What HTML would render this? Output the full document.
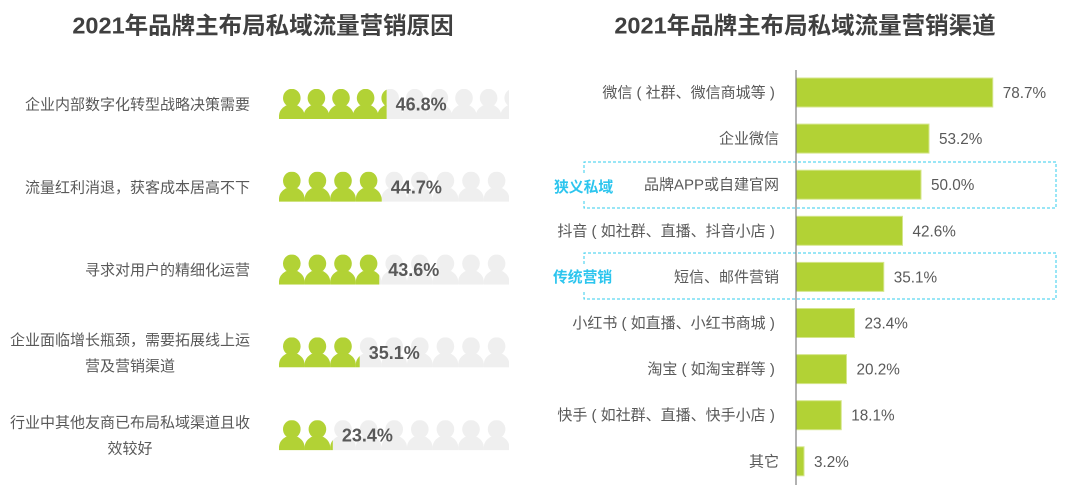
<!DOCTYPE html>
<html lang="zh">
<head>
<meta charset="utf-8">
<title>2021年品牌主布局私域流量营销</title>
<style>
html,body{margin:0;padding:0;background:#fff;width:1080px;height:495px;overflow:hidden}
svg{display:block}
text{font-family:"Liberation Sans","Noto Sans CJK SC",sans-serif;fill:#595959}
</style>
</head>
<body>
<svg id="chart" xmlns="http://www.w3.org/2000/svg" width="1080" height="495" viewBox="0 0 1080 495">
  <defs>
    <symbol id="person" viewBox="0 0 25.6 30" width="25.6" height="30" overflow="visible">
      <ellipse cx="12.8" cy="9" rx="8.8" ry="9.2"/>
      <path d="M0 30 C-0.4 24 1 20 7 16.5 L18.6 16.5 C24.6 20 26 24 25.6 30 Z"/>
    </symbol>
  </defs>
  <text x="263" y="33.5" text-anchor="middle" font-size="23.5" font-weight="700" style="fill:#404040">2021年品牌主布局私域流量营销原因</text>
  <text x="805" y="33.5" text-anchor="middle" font-size="23.5" font-weight="700" style="fill:#404040">2021年品牌主布局私域流量营销渠道</text>
  <g id="left-chart"></g>
  <g id="right-chart"></g>
</svg>
<script>
const reasonLabels = [
  ["企业内部数字化转型战略决策需要"],
  ["流量红利消退，获客成本居高不下"],
  ["寻求对用户的精细化运营"],
  ["企业面临增长瓶颈，需要拓展线上运", "营及营销渠道"],
  ["行业中其他友商已布局私域渠道且收", "效较好"]
];
const reasonValues = [46.8, 44.7, 43.6, 35.1, 23.4];
const channelLabels = [
  "微信\u00a0(\u00a0社群、微信商城等\u00a0)\u00a0",
  "企业微信",
  "品牌APP或自建官网",
  "抖音\u00a0(\u00a0如社群、直播、抖音小店\u00a0)\u00a0",
  "短信、邮件营销",
  "小红书\u00a0(\u00a0如直播、小红书商城\u00a0)\u00a0",
  "淘宝\u00a0(\u00a0如淘宝群等\u00a0)\u00a0",
  "快手\u00a0(\u00a0如社群、直播、快手小店\u00a0)\u00a0",
  "其它"
];
const channelValues = [78.7, 53.2, 50.0, 42.6, 35.1, 23.4, 20.2, 18.1, 3.2];

const NS = "http://www.w3.org/2000/svg";
const svg = document.getElementById("chart");
const defs = svg.querySelector("defs");
const leftG = document.getElementById("left-chart");
const rightG = document.getElementById("right-chart");

function mk(tag, attrs, parent, txt) {
  const el = document.createElementNS(NS, tag);
  for (const k in attrs) el.setAttribute(k, attrs[k]);
  if (txt !== undefined) el.textContent = txt;
  parent.appendChild(el);
  return el;
}

/* left pictogram axis */
const picX0 = 279, picW = 230, picH = 30;
const rowTop = i => 89 + i * 82.8;
const picScale = v => v / 100 * picW;

reasonValues.forEach((v, i) => {
  const y = rowTop(i);
  const pitch = i === 0 ? 24.6 : 25.6;
  const rowId = "row-" + i;
  const clipAll = mk("clipPath", {id: rowId + "-all"}, defs);
  mk("rect", {x: picX0, y: y, width: picW, height: picH}, clipAll);
  const clipFill = mk("clipPath", {id: rowId + "-fill"}, defs);
  mk("rect", {x: picX0, y: y, width: picScale(v), height: picH}, clipFill);
  const clipRest = mk("clipPath", {id: rowId + "-rest"}, defs);
  mk("rect", {x: picX0 + picScale(v), y: y, width: picW - picScale(v), height: picH}, clipRest);

  const lines = reasonLabels[i];
  const cy = y + 15;
  lines.forEach((ln, j) => {
    const t = lines.length === 1
      ? mk("text", {x: 250, y: cy + 5.5, "text-anchor": "end", "font-size": 15}, leftG, ln)
      : mk("text", {x: 130, y: cy + 5.5 + (j === 0 ? -13 : 13), "text-anchor": "middle", "font-size": 15}, leftG, ln);
    
    
  });

  const bg = mk("g", {"clip-path": "url(#" + rowId + "-rest)", fill: "#efefef"}, leftG);
  
  
  const fg = mk("g", {"clip-path": "url(#" + rowId + "-fill)", fill: "#b2d235"}, leftG);
  
  
  const count = Math.ceil(picW / pitch) + 1;
  for (let k = 0; k < count; k++) {
    const px = picX0 + k * pitch;
    const clip = mk("g", {"clip-path": "url(#" + rowId + "-all)"}, bg);
    mk("use", {href: "#person", x: px, y: y}, clip);
    const clip2 = mk("g", {"clip-path": "url(#" + rowId + "-all)"}, fg);
    mk("use", {href: "#person", x: px, y: y}, clip2);
  }
  const val = mk("text", {x: picX0 + picScale(v) + 9, y: cy + 6.5, "font-size": 18, "font-weight": 700}, leftG, v.toFixed(1) + "%");
  
  
});

/* right bar axis */
const barX0 = 796, pxPerPct = 2.5, barH = 29;
const barCy = i => 92.5 + i * 46.1;
const barW = v => v * pxPerPct;

function dashedBox(y0, y1, name) {
  const x0 = 584, x1 = 1056;
  const gapTop = y0 + 11, gapBot = y1 - 8;
  const p = mk("path", {
    d: "M" + x0 + " " + gapTop + " V" + y0 + " H" + x1 + " V" + y1 + " H" + x0 + " V" + gapBot,
    fill: "none", stroke: "#33ccee", "stroke-width": 1, "stroke-dasharray": "3 2"
  }, rightG);
  
  
}
dashedBox(162, 208, "narrow-private-domain-box");
dashedBox(253, 299, "traditional-marketing-box");

const cat1 = mk("text", {x: 554, y: 192, "font-size": 14.8, "font-weight": 700, style: "fill:#2cc5ee"}, rightG, "狭义私域");


const cat2 = mk("text", {x: 553, y: 282, "font-size": 14.8, "font-weight": 700, style: "fill:#2cc5ee"}, rightG, "传统营销");



channelValues.forEach((v, i) => {
  const cy = barCy(i);
  const bar = mk("rect", {x: barX0, y: cy - barH / 2, width: barW(v), height: barH, fill: "#b2d235", stroke: "#d5e68c", "stroke-width": 1}, rightG);
  
  
  const lab = mk("text", {x: 779, y: cy + 5, "text-anchor": "end", "font-size": 15}, rightG, channelLabels[i]);
  
  
  const val = mk("text", {x: barX0 + barW(v) + 10, y: cy + 5.5, "font-size": 15.3}, rightG, v.toFixed(1) + "%");
  
  
});
const axis = mk("line", {x1: barX0, x2: barX0, y1: 70, y2: 485, stroke: "#7f7f7f", "stroke-width": 1.2}, rightG);


</script>
</body>
</html>
